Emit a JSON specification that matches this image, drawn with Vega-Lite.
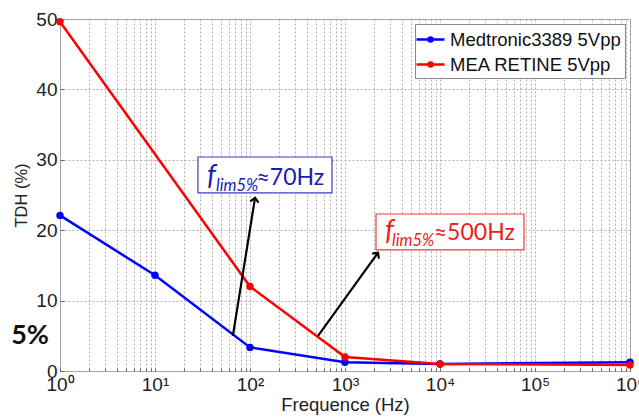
{
  "$schema": "https://vega.github.io/schema/vega-lite/v6.json",
  "width": 570,
  "height": 352,
  "autosize": {"type": "none"},
  "padding": {"left": 60, "top": 19, "right": 9, "bottom": 47},
  "background": "white",
  "config": {"view": {"stroke": "#9a9a9a", "strokeWidth": 1}, "font": "Liberation Sans"},
  "datasets": {
    "tdh": [
      {"f": 1, "tdh": 22.1, "series": "Medtronic3389 5Vpp"},
      {"f": 10, "tdh": 13.6, "series": "Medtronic3389 5Vpp"},
      {"f": 100, "tdh": 3.35, "series": "Medtronic3389 5Vpp"},
      {"f": 1000, "tdh": 1.25, "series": "Medtronic3389 5Vpp"},
      {"f": 10000, "tdh": 1.0, "series": "Medtronic3389 5Vpp"},
      {"f": 1000000, "tdh": 1.25, "series": "Medtronic3389 5Vpp"},
      {"f": 1, "tdh": 49.6, "series": "MEA RETINE 5Vpp"},
      {"f": 100, "tdh": 12.0, "series": "MEA RETINE 5Vpp"},
      {"f": 1000, "tdh": 2.0, "series": "MEA RETINE 5Vpp"},
      {"f": 10000, "tdh": 1.0, "series": "MEA RETINE 5Vpp"},
      {"f": 1000000, "tdh": 0.85, "series": "MEA RETINE 5Vpp"}
    ],
    "arrows": [
      {"arrow": "a1", "f": 66, "tdh": 5, "end": false},
      {"arrow": "a1", "f": 113, "tdh": 24.6, "end": true},
      {"arrow": "a2", "f": 520, "tdh": 5, "end": false},
      {"arrow": "a2", "f": 2225, "tdh": 16.8, "end": true}
    ],
    "boxes": [
      {"f": 28.3, "f2": 730, "tdh": 30.4, "tdh2": 25.3, "series": "Medtronic3389 5Vpp"},
      {"f": 2120, "f2": 76600, "tdh": 22.3, "tdh2": 17.2, "series": "MEA RETINE 5Vpp"}
    ],
    "labels": [
      {"f": 35.3, "tdh": 26.4, "text": "f", "part": "f", "series": "Medtronic3389 5Vpp"},
      {"f": 43.9, "tdh": 25.6, "text": "lim5%", "part": "sub", "series": "Medtronic3389 5Vpp"},
      {"f": 117, "tdh": 26.4, "text": "≈70Hz", "part": "main", "series": "Medtronic3389 5Vpp"},
      {"f": 2636, "tdh": 18.6, "text": "f", "part": "f", "series": "MEA RETINE 5Vpp"},
      {"f": 3125, "tdh": 17.8, "text": "lim5%", "part": "sub", "series": "MEA RETINE 5Vpp"},
      {"f": 8600, "tdh": 18.6, "text": "≈500Hz", "part": "main", "series": "MEA RETINE 5Vpp"}
    ],
    "five": [{"f": 1, "tdh": 5, "text": "5%"}]
  },
  "layer": [
    {
      "data": {"name": "tdh"},
      "mark": {"type": "line", "strokeWidth": 2.5, "point": {"filled": true, "size": 55}},
      "encoding": {
        "x": {
          "field": "f", "type": "quantitative",
          "scale": {"type": "log", "domain": [1, 1000000], "nice": false},
          "axis": {
            "title": "Frequence (Hz)",
            "values": [1,2,3,4,5,6,7,8,9,10,20,30,40,50,60,70,80,90,100,200,300,400,500,600,700,800,900,1000,2000,3000,4000,5000,6000,7000,8000,9000,10000,20000,30000,40000,50000,60000,70000,80000,90000,100000,200000,300000,400000,500000,600000,700000,800000,900000,1000000],
            "labelExpr": "abs(log(datum.value)/LN10 - round(log(datum.value)/LN10)) < 0.000001 ? '10' + ['⁰','¹','²','³','⁴','⁵','⁶'][round(log(datum.value)/LN10)] : ''",
            "labelOverlap": false, "labelFlush": false,
            "grid": true, "gridDash": [2, 2], "gridColor": "#b0b0b0", "gridWidth": 1,
            "ticks": true, "tickSize": -3, "tickColor": "#666", "domain": false,
            "labelFontSize": 19, "labelColor": "#222", "labelPadding": 7,
            "titleFontSize": 18.5, "titleFontWeight": "normal", "titleColor": "#222", "titlePadding": 1
          }
        },
        "y": {
          "field": "tdh", "type": "quantitative",
          "scale": {"domain": [0, 50], "nice": false},
          "axis": {
            "title": "TDH (%)",
            "values": [0, 10, 20, 30, 40, 50],
            "grid": true, "gridDash": [2, 2], "gridColor": "#b0b0b0",
            "ticks": true, "tickSize": -4, "tickColor": "#666", "domain": false,
            "labelFontSize": 19, "labelColor": "#222", "labelPadding": 7,
            "titleFontSize": 16.5, "titleFontWeight": "normal", "titleColor": "#222", "titlePadding": 6
          }
        },
        "color": {
          "field": "series", "type": "nominal",
          "scale": {"domain": ["Medtronic3389 5Vpp", "MEA RETINE 5Vpp"], "range": ["#0000ff", "#ff0000"]},
          "legend": {
            "orient": "top-right", "title": null, "offset": 5,
            "strokeColor": "#888", "fillColor": "white", "padding": 4, "cornerRadius": 0,
            "labelFontSize": 18.5, "labelFont": "Liberation Sans", "labelColor": "#111", "labelLimit": 400,
            "symbolType": "M-1.4,0L1.4,0M-0.2,0A0.2,0.2,0,1,1,0.2,0A0.2,0.2,0,1,1,-0.2,0",
            "symbolSize": 400, "symbolStrokeWidth": 2.5, "rowPadding": 4, "labelOffset": 8, "symbolOffset": 0,
            "encode": {"symbols": {"update": {"fill": {"scale": "color", "field": "value"}, "stroke": {"scale": "color", "field": "value"}}}}
          }
        }
      }
    },
    {
      "mark": {"type": "rule", "color": "black", "strokeWidth": 2.5},
      "encoding": {"y": {"datum": 5}}
    },
    {
      "data": {"name": "arrows"},
      "mark": {"type": "line", "color": "black", "strokeWidth": 2.2},
      "encoding": {
        "x": {"field": "f", "type": "quantitative"},
        "y": {"field": "tdh", "type": "quantitative"},
        "detail": {"field": "arrow"}
      }
    },
    {
      "data": {"name": "arrows"},
      "transform": [{"filter": "datum.end && datum.arrow == 'a1'"}],
      "mark": {"type": "point", "shape": "M-1,1L0,0L1,1", "filled": false, "color": "black", "strokeWidth": 2.2, "size": 70, "opacity": 1},
      "encoding": {
        "x": {"field": "f", "type": "quantitative"},
        "y": {"field": "tdh", "type": "quantitative"},
        "angle": {"value": 9}
      }
    },
    {
      "data": {"name": "arrows"},
      "transform": [{"filter": "datum.end && datum.arrow == 'a2'"}],
      "mark": {"type": "point", "shape": "M-1,1L0,0L1,1", "filled": false, "color": "black", "strokeWidth": 2.2, "size": 70, "opacity": 1},
      "encoding": {
        "x": {"field": "f", "type": "quantitative"},
        "y": {"field": "tdh", "type": "quantitative"},
        "angle": {"value": 36}
      }
    },
    {
      "data": {"name": "boxes"},
      "mark": {"type": "rect", "fill": "white", "strokeWidth": 1.2},
      "encoding": {
        "x": {"field": "f", "type": "quantitative"},
        "x2": {"field": "f2"},
        "y": {"field": "tdh", "type": "quantitative"},
        "y2": {"field": "tdh2"},
        "stroke": {"field": "series", "type": "nominal", "scale": {"domain": ["Medtronic3389 5Vpp", "MEA RETINE 5Vpp"], "range": ["#3b3bd6", "#f03a3a"]}, "legend": null}
      }
    },
    {
      "data": {"name": "labels"},
      "transform": [{"filter": "datum.part == 'f'"}],
      "mark": {"type": "text", "align": "left", "baseline": "alphabetic", "font": "Lato", "fontStyle": "italic", "fontSize": 28},
      "encoding": {
        "x": {"field": "f", "type": "quantitative"},
        "y": {"field": "tdh", "type": "quantitative"},
        "text": {"field": "text"},
        "fill": {"field": "series", "type": "nominal", "scale": {"domain": ["Medtronic3389 5Vpp", "MEA RETINE 5Vpp"], "range": ["#1a1ab8", "#ee1c1c"]}, "legend": null}
      }
    },
    {
      "data": {"name": "labels"},
      "transform": [{"filter": "datum.part == 'sub'"}],
      "mark": {"type": "text", "align": "left", "baseline": "alphabetic", "font": "Lato", "fontStyle": "italic", "fontSize": 16.5},
      "encoding": {
        "x": {"field": "f", "type": "quantitative"},
        "y": {"field": "tdh", "type": "quantitative"},
        "text": {"field": "text"},
        "fill": {"field": "series", "type": "nominal", "scale": {"domain": ["Medtronic3389 5Vpp", "MEA RETINE 5Vpp"], "range": ["#1a1ab8", "#ee1c1c"]}, "legend": null}
      }
    },
    {
      "data": {"name": "labels"},
      "transform": [{"filter": "datum.part == 'main'"}],
      "mark": {"type": "text", "align": "left", "baseline": "alphabetic", "font": "Lato", "fontSize": 23},
      "encoding": {
        "x": {"field": "f", "type": "quantitative"},
        "y": {"field": "tdh", "type": "quantitative"},
        "text": {"field": "text"},
        "fill": {"field": "series", "type": "nominal", "scale": {"domain": ["Medtronic3389 5Vpp", "MEA RETINE 5Vpp"], "range": ["#1a1ab8", "#ee1c1c"]}, "legend": null}
      }
    },
    {
      "data": {"name": "five"},
      "mark": {"type": "text", "align": "right", "baseline": "middle", "dx": -11, "font": "Lato", "fontWeight": "bold", "fontSize": 27, "color": "#111", "clip": false},
      "encoding": {
        "x": {"field": "f", "type": "quantitative"},
        "y": {"field": "tdh", "type": "quantitative"},
        "text": {"field": "text"}
      }
    }
  ]
}
